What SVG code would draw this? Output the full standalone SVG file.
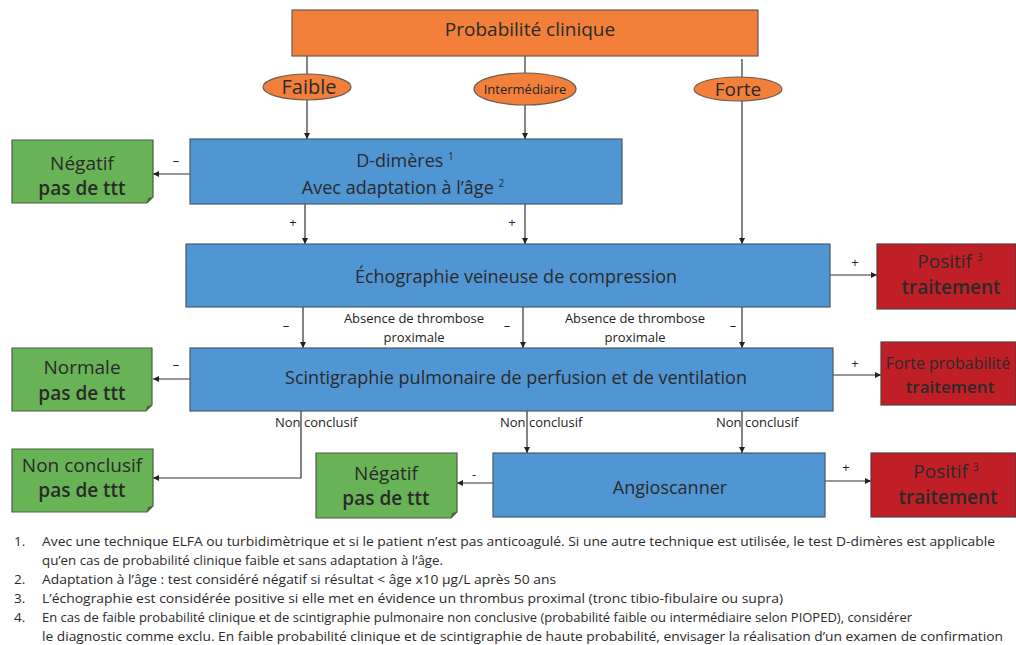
<svg xmlns="http://www.w3.org/2000/svg" width="1016" height="645" viewBox="0 0 1016 645">
<defs>
<marker id="ah" viewBox="0 0 10 10" refX="10" refY="5" markerWidth="6" markerHeight="6" orient="auto" markerUnits="userSpaceOnUse">
<path d="M0,0 L10,5 L0,10 z" fill="#222"/>
</marker>
<style>
text{font-family:"Open Sans","Noto Sans","DejaVu Sans",sans-serif;fill:#2a2a2a}
.or{fill:#F2803A;stroke:#6b5a50;stroke-width:1.2}
.bl{fill:#5096D2;stroke:#4a5a6a;stroke-width:1.2}
.gr{fill:#69B357;stroke:#4d5a4a;stroke-width:1.2}
.rd{fill:#C01F28;stroke:#5a3a3a;stroke-width:1.2}
.fold{fill:#3f6a35}
.big{font-size:19px;text-anchor:middle}
.box{font-size:18px}
.bold{font-weight:600}
.sm{font-size:13px;fill:#222}
.mid{text-anchor:middle}
.sup{font-size:10px}
.fn{font-size:13.5px}
.arr{fill:none;stroke:#333;stroke-width:1.2;marker-end:url(#ah)}
</style>
</defs>
<rect width="1016" height="645" fill="#fff"/>

<g id="connectors">
<line class="arr" x1="307" y1="56" x2="307" y2="139"/>
<line class="arr" x1="525" y1="56" x2="525" y2="139"/>
<line class="arr" x1="742" y1="59" x2="742" y2="244"/>
<line class="arr" x1="190" y1="174" x2="153" y2="174"/>
<line class="arr" x1="305" y1="204" x2="305" y2="244"/>
<line class="arr" x1="525" y1="204" x2="525" y2="244"/>
<line class="arr" x1="830" y1="275" x2="877" y2="275"/>
<line class="arr" x1="303" y1="307" x2="303" y2="348"/>
<line class="arr" x1="523" y1="307" x2="523" y2="348"/>
<line class="arr" x1="742" y1="307" x2="742" y2="348"/>
<line class="arr" x1="190" y1="379" x2="153" y2="379"/>
<line class="arr" x1="833" y1="375" x2="881" y2="375"/>
<polyline class="arr" points="301,411 301,478 153,478"/>
<line class="arr" x1="527" y1="411" x2="527" y2="453"/>
<line class="arr" x1="742" y1="411" x2="742" y2="453"/>
<line class="arr" x1="493" y1="483" x2="457" y2="483"/>
<line class="arr" x1="825" y1="481" x2="871" y2="481"/>
<text class="sm mid" x="176" y="165">–</text>
<text class="sm mid" x="293" y="227">+</text>
<text class="sm mid" x="512" y="227">+</text>
<text class="sm mid" x="855" y="267">+</text>
<text class="sm mid" x="286" y="330">–</text>
<text class="sm mid" x="507" y="330">–</text>
<text class="sm mid" x="733" y="330">–</text>
<text class="sm mid" x="414" y="323">Absence de thrombose</text>
<text class="sm mid" x="414" y="342">proximale</text>
<text class="sm mid" x="635" y="323">Absence de thrombose</text>
<text class="sm mid" x="635" y="342">proximale</text>
<text class="sm mid" x="176" y="369">–</text>
<text class="sm mid" x="855" y="368">+</text>
<text class="sm" x="275" y="427">Non conclusif</text>
<text class="sm" x="500" y="427">Non conclusif</text>
<text class="sm" x="716" y="427">Non conclusif</text>
<text class="sm mid" x="474" y="479">-</text>
<text class="sm mid" x="846" y="472">+</text>
</g>

<g id="n-probabilite">
<rect class="or" x="292" y="10" width="466" height="46"/>
<text class="big" x="530" y="36">Probabilité clinique</text>
</g>
<g id="n-faible">
<ellipse class="or" cx="307" cy="87" rx="44" ry="13"/>
<text class="big" x="309" y="94" style="font-size:20px">Faible</text>
</g>
<g id="n-intermediaire">
<ellipse class="or" cx="525" cy="89" rx="51" ry="16"/>
<text class="sm mid" x="525" y="94">Intermédiaire</text>
</g>
<g id="n-forte">
<ellipse class="or" cx="738" cy="89" rx="44" ry="12"/>
<text class="big" x="738" y="96">Forte</text>
</g>

<g id="n-ddimeres">
<rect class="bl" x="190" y="139" width="432" height="65"/>
<text class="big box" x="405" y="167">D-dimères <tspan class="sup" dy="-7">1</tspan></text>
<text class="big box" x="403" y="194">Avec adaptation à l’âge <tspan class="sup" dy="-7">2</tspan></text>
</g>
<g id="n-negatif1">
<path class="gr" d="M12,140 H153 V197 L147,203 H12 Z"/>
<path class="fold" d="M153,197 L147,203 L148,198 Z"/>
<text class="big" x="82" y="170">Négatif</text>
<text class="big bold" x="82" y="195">pas de ttt</text>
</g>

<g id="n-echographie">
<rect class="bl" x="186" y="244" width="644" height="63"/>
<text class="big box" x="516" y="283">Échographie veineuse de compression</text>
</g>
<g id="n-positif1">
<rect class="rd" x="877" y="244" width="139" height="65"/>
<text class="big" x="950" y="268">Positif <tspan class="sup" dy="-7">3</tspan></text>
<text class="big bold" x="951" y="294">traitement</text>
</g>

<g id="n-scintigraphie">
<rect class="bl" x="190" y="348" width="643" height="63"/>
<text class="big box" x="516" y="384">Scintigraphie pulmonaire de perfusion et de ventilation</text>
</g>
<g id="n-normale">
<path class="gr" d="M12,348 H152 V405 L146,411 H12 Z"/>
<path class="fold" d="M152,405 L146,411 L147,406 Z"/>
<text class="big" x="82" y="374">Normale</text>
<text class="big bold" x="82" y="400">pas de ttt</text>
</g>
<g id="n-forteprob">
<rect class="rd" x="881" y="342" width="135" height="63"/>
<text class="big" x="948" y="369" style="font-size:16px">Forte probabilité</text>
<text class="big bold" x="950" y="393" style="font-size:17px">traitement</text>
</g>

<g id="n-nonconclusif">
<path class="gr" d="M12,449 H153 V506 L147,512 H12 Z"/>
<path class="fold" d="M153,506 L147,512 L148,507 Z"/>
<text class="big" x="82" y="472">Non conclusif</text>
<text class="big bold" x="82" y="497">pas de ttt</text>
</g>
<g id="n-negatif2">
<path class="gr" d="M316,453 H457 V512 L451,518 H316 Z"/>
<path class="fold" d="M457,512 L451,518 L452,513 Z"/>
<text class="big" x="386" y="480">Négatif</text>
<text class="big bold" x="386" y="505">pas de ttt</text>
</g>
<g id="n-angioscanner">
<rect class="bl" x="493" y="453" width="332" height="64"/>
<text class="big box" x="670" y="494">Angioscanner</text>
</g>
<g id="n-positif2">
<rect class="rd" x="871" y="453" width="145" height="64"/>
<text class="big" x="946" y="478">Positif <tspan class="sup" dy="-7">3</tspan></text>
<text class="big bold" x="948" y="504">traitement</text>
</g>

<g id="footnotes">
<text class="fn" x="14" y="546">1.</text>
<text class="fn" x="42" y="546" textLength="953" lengthAdjust="spacingAndGlyphs">Avec une technique ELFA ou turbidimètrique et si le patient n’est pas anticoagulé. Si une autre technique est utilisée, le test D-dimères est applicable</text>
<text class="fn" x="42" y="565" textLength="401" lengthAdjust="spacingAndGlyphs">qu’en cas de probabilité clinique faible et sans adaptation à l’âge.</text>
<text class="fn" x="14" y="584">2.</text>
<text class="fn" x="42" y="584" textLength="514" lengthAdjust="spacingAndGlyphs">Adaptation à l’âge : test considéré négatif si résultat &lt; âge x10 µg/L après 50 ans</text>
<text class="fn" x="14" y="603">3.</text>
<text class="fn" x="42" y="603" textLength="741" lengthAdjust="spacingAndGlyphs">L’échographie est considérée positive si elle met en évidence un thrombus proximal (tronc tibio-fibulaire ou supra)</text>
<text class="fn" x="14" y="622">4.</text>
<text class="fn" x="42" y="622" textLength="870" lengthAdjust="spacingAndGlyphs">En cas de faible probabilité clinique et de scintigraphie pulmonaire non conclusive (probabilité faible ou intermédiaire selon PIOPED), considérer</text>
<text class="fn" x="42" y="641" textLength="961" lengthAdjust="spacingAndGlyphs">le diagnostic comme exclu. En faible probabilité clinique et de scintigraphie de haute probabilité, envisager la réalisation d’un examen de confirmation</text>
</g>
</svg>
